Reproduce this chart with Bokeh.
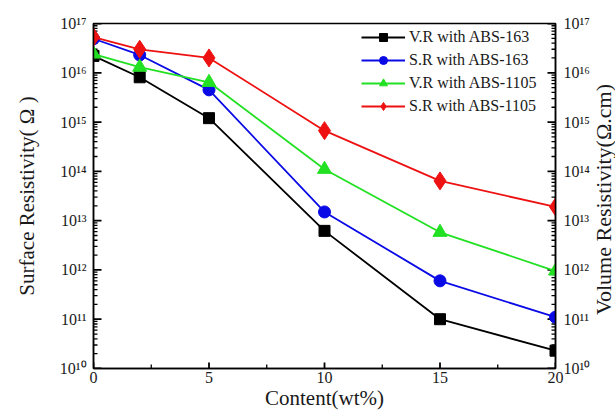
import math
from bokeh.plotting import figure
from bokeh.layouts import row
from bokeh.models import LogAxis, Legend, LegendItem, CustomJSTickFormatter, LogTicker, SingleIntervalTicker, Div
from bokeh.embed import file_html
from bokeh.resources import INLINE

# Data
content = [0, 2, 5, 10, 15, 20]
vr_abs163 = [2.2e16, 8.1e15, 1.2e15, 6.2e12, 1.0e11, 2.3e10]
sr_abs163 = [4.9e16, 2.3e16, 4.5e15, 1.5e13, 6.0e11, 1.1e11]
vr_abs1105 = [2.4e16, 1.3e16, 6.4e15, 1.1e14, 5.8e12, 9.5e11]
sr_abs1105 = [5.3e16, 3.0e16, 2.0e16, 6.7e14, 6.4e13, 1.9e13]
series_names = ["V.R with ABS-163", "S.R with ABS-163", "V.R with ABS-1105", "S.R with ABS-1105"]
x_label = "Content(wt%)"
y_label_left = "Surface Resistivity( Ω )"
y_label_right = "Volume Resistivity(Ω.cm)"

# tick values
x_major = [0, 5, 10, 15, 20]
x_minor = [2.5, 7.5, 12.5, 17.5]
y_exponents = list(range(10, 18))
y_major = [10.0 ** k for k in y_exponents]
y_minor = [m * 10.0 ** k for k in y_exponents[:-1] for m in range(2, 10)]

X_MIN, X_MAX = 0, 20
Y_MIN, Y_MAX = 1e10, 1e17

FONT = "Liberation Serif"
TXT = "#1a1a1a"

p = figure(width=593, height=412, output_backend="svg", toolbar_location=None,
           x_range=(X_MIN, X_MAX), y_range=(Y_MIN, Y_MAX), y_axis_type="log",
           min_border_left=93, min_border_right=33, min_border_top=23, min_border_bottom=44)
p.toolbar.logo = None
p.grid.visible = False
p.outline_line_color = "black"
p.outline_line_width = 1.5
p.background_fill_color = "white"

sup_js = """
const sup = {"0":"\u2070","1":"\u00b9","2":"\u00b2","3":"\u00b3","4":"\u2074","5":"\u2075","6":"\u2076","7":"\u2077","8":"\u2078","9":"\u2079","-":"\u207b"};
const e = Math.round(Math.log10(tick));
return "10" + String(e).split("").map(c => sup[c]).join("");
"""
fmt = CustomJSTickFormatter(code=sup_js)

def style_axis(ax):
    ax.axis_line_color = "black"
    ax.axis_line_width = 1.5
    ax.major_tick_out = 0
    ax.minor_tick_out = 0
    ax.major_tick_in = 0
    ax.minor_tick_in = 0
    ax.major_label_text_font = FONT
    ax.major_label_text_font_size = "16px"
    ax.major_label_text_color = TXT
    ax.axis_label_text_font = FONT
    ax.axis_label_text_font_style = "normal"
    ax.axis_label_text_font_size = "21px"
    ax.axis_label_text_color = TXT

# y axes
yl = p.yaxis[0]
yl.ticker = LogTicker(num_minor_ticks=10, desired_num_ticks=8)
yl.formatter = fmt
yl.axis_label = y_label_left
yl.major_label_standoff = 7
yl.axis_label_standoff = 18
style_axis(yl)

yr = LogAxis(ticker=LogTicker(num_minor_ticks=10, desired_num_ticks=8), formatter=fmt)
style_axis(yr)
yr.major_label_standoff = 8
p.add_layout(yr, "right")

xa = p.xaxis[0]
xa.ticker = SingleIntervalTicker(interval=5, num_minor_ticks=2)
xa.axis_label = x_label
xa.major_label_standoff = 3
xa.axis_label_standoff = 0
style_axis(xa)

# inward ticks: dash markers centred on the frame edge (the outer half is clipped by the frame)
TW = 1.8
TWM = 1.3
p.scatter(x=[X_MIN] * len(y_major), y=y_major, marker="dash", size=16, line_color="black", line_width=TW)
p.scatter(x=[X_MIN] * len(y_minor), y=y_minor, marker="dash", size=8, line_color="black", line_width=TWM)
p.scatter(x=[X_MAX] * len(y_major), y=y_major, marker="dash", size=16, line_color="black", line_width=TW)
p.scatter(x=[X_MAX] * len(y_minor), y=y_minor, marker="dash", size=8, line_color="black", line_width=TWM)
p.scatter(x=x_major, y=[Y_MIN] * len(x_major), marker="dash", size=12, angle=math.pi / 2, line_color="black", line_width=TW)
p.scatter(x=x_minor, y=[Y_MIN] * len(x_minor), marker="dash", size=8, angle=math.pi / 2, line_color="black", line_width=TWM)

colors = ["black", "#0a0ae6", "#22e022", "#ee1111"]
data = [vr_abs163, sr_abs163, vr_abs1105, sr_abs1105]
items = []
for i, (ys, c, name) in enumerate(zip(data, colors, series_names)):
    l = p.line(content, ys, line_color=c, line_width=1.8)
    if i == 0:
        m = p.scatter(content, ys, marker="square", size=11, fill_color=c, line_color=c)
    elif i == 1:
        m = p.scatter(content, ys, marker="circle", size=12, fill_color=c, line_color=c)
    elif i == 2:
        m = p.scatter(content, ys, marker="triangle", size=14, fill_color=c, line_color=c)
    else:
        m = p.scatter(content, ys, marker="diamond", size=18, fill_color=c, line_color=c)
    items.append(LegendItem(label=name, renderers=[l, m]))

legend = Legend(items=items, location=(268, 252))
legend.border_line_alpha = 0
legend.background_fill_alpha = 0
legend.padding = 0
legend.margin = 0
legend.spacing = 3
legend.glyph_width = 44
legend.glyph_height = 20
legend.label_height = 20
legend.label_standoff = 4
legend.label_text_font = FONT
legend.label_text_font_size = "16px"
legend.label_text_color = TXT
p.add_layout(legend, "center")

right_label = Div(
    text=('<div style="display:flex;align-items:center;justify-content:center;'
          'width:22px;height:400px;">'
          '<div style="writing-mode:vertical-rl;transform:rotate(180deg);white-space:nowrap;'
          f'font-family:\'{FONT}\';font-size:22px;color:{TXT};line-height:22px;">'
          f'{y_label_right}</div></div>'),
    width=22, height=412, margin=0)

layout = row(p, right_label, spacing=0)
open("out.html", "w").write(file_html(layout, INLINE))
